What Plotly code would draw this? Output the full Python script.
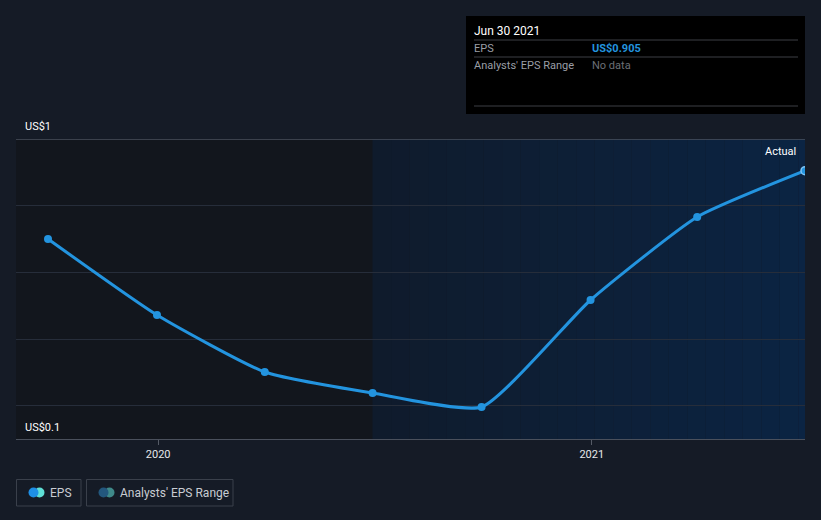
import plotly.graph_objects as go
import datetime as dt

dates = ["2019-09-30", "2019-12-31", "2020-03-31", "2020-06-30",
         "2020-09-30", "2020-12-31", "2021-03-31", "2021-06-30"]
eps = [0.70, 0.472, 0.301, 0.238, 0.196, 0.517, 0.766, 0.905]
y_ticks = [0.2, 0.4, 0.6, 0.8, 1.0]
x_tick_vals = ["2020-01-01", "2021-01-01"]
x_tick_text = ["2020", "2021"]

W, H = 821, 520
L, R, T, B = 16, 805, 139, 439

def px(xp):
    return (xp - L) / (R - L)

def py(yp):
    return (B - yp) / (B - T)

BG = "#151b26"
LINE = "#2394df"

fig = go.Figure()

fig.add_trace(go.Scatter(
    x=dates, y=eps, mode="lines+markers",
    line=dict(color=LINE, width=3, shape="spline", smoothing=0.5),
    marker=dict(color=LINE, size=8,
                line=dict(color=[LINE]*7 + ["#7fc4f5"], width=[0]*7 + [1.5])),
    hoverinfo="skip", showlegend=False, cliponaxis=True,
))

shapes = []
shapes.append(dict(type="rect", xref="x", yref="paper", x0="2019-08-01", x1=dates[3],
                   y0=0, y1=1, fillcolor="#12161d", line=dict(width=0), layer="below"))
d0 = dt.datetime(2020, 6, 30)
d1 = dt.datetime(2021, 7, 10)
n = 24
c0 = (0x0f, 0x1b, 0x2c)
c1 = (0x0b, 0x24, 0x43)
for i in range(n):
    a = d0 + (d1 - d0) * i / n
    b = d0 + (d1 - d0) * (i + 1) / n
    t = i / (n - 1)
    c = tuple(int(round(c0[k] + (c1[k] - c0[k]) * t)) for k in range(3))
    shapes.append(dict(type="rect", xref="x", yref="paper",
                       x0=a.strftime("%Y-%m-%d %H:%M"), x1=b.strftime("%Y-%m-%d %H:%M"),
                       y0=0, y1=1, fillcolor="rgb(%d,%d,%d)" % c,
                       line=dict(width=0), layer="below"))
shapes.append(dict(type="line", xref="paper", yref="y", x0=0, x1=1, y0=1.0, y1=1.0,
                   line=dict(color="#4a505c", width=1.5), layer="below"))

shapes.append(dict(type="rect", xref="paper", yref="paper", x0=px(466), x1=px(805),
                   y0=py(114), y1=py(16), fillcolor="#000000", line=dict(width=0)))
for yy in [40, 57, 106]:
    shapes.append(dict(type="line", xref="paper", yref="paper", x0=px(474), x1=px(798),
                       y0=py(yy), y1=py(yy), line=dict(color="#3c3f45", width=1)))

shapes.append(dict(type="rect", xref="paper", yref="paper", x0=px(16.5), x1=px(81),
                   y0=py(506), y1=py(479.5), line=dict(color="#3a404b", width=1),
                   fillcolor="rgba(0,0,0,0)"))
shapes.append(dict(type="rect", xref="paper", yref="paper", x0=px(86.5), x1=px(233),
                   y0=py(506), y1=py(479.5), line=dict(color="#3a404b", width=1),
                   fillcolor="rgba(0,0,0,0)"))
def circle(cx, cy, r, color):
    return dict(type="circle", xref="paper", yref="paper",
                x0=px(cx - r), x1=px(cx + r), y0=py(cy + r), y1=py(cy - r),
                fillcolor=color, line=dict(width=0))
shapes.append(circle(39.5, 492.5, 5, "#5fe0d6"))
shapes.append(circle(33.5, 492.5, 5, "#1e8fe6"))
shapes.append(circle(109.5, 492.5, 5, "#3f8a8a"))
shapes.append(circle(103.5, 492.5, 5, "#23577d"))

annotations = []
def txt(text, x, y, color, size=12, xanchor="left", bold=False):
    if bold:
        text = "<b>" + text + "</b>"
    annotations.append(dict(text=text, xref="paper", yref="paper", x=px(x), y=py(y),
                            xanchor=xanchor, yanchor="middle", showarrow=False,
                            font=dict(color=color, size=size, family="Roboto")))

txt("Jun 30 2021", 472, 31, "#ffffff", 12)
txt("EPS", 472, 48, "#9a9ea6", 11)
txt("US$0.905", 590, 48, "#2394df", 11, bold=True)
txt("Analysts' EPS Range", 472, 65, "#9a9ea6", 11)
txt("No data", 590, 65, "#6b6f76", 11)
txt("Actual", 798, 151, "#ffffff", 11, xanchor="right")
txt("US$1", 23, 127, "#ffffff", 11)
txt("US$0.1", 23, 427, "#ffffff", 11)
txt("EPS", 48, 493, "#c8ccd2", 12)
txt("Analysts' EPS Range", 118, 493, "#c8ccd2", 12)

fig.update_layout(
    width=W, height=H,
    margin=dict(l=L, r=W - R, t=T, b=H - B),
    paper_bgcolor=BG, plot_bgcolor=BG,
    shapes=shapes, annotations=annotations,
    showlegend=False,
    xaxis=dict(type="date", range=["2019-09-03", "2021-06-30"],
               tickvals=x_tick_vals, ticktext=x_tick_text,
               ticks="outside", ticklen=5, tickcolor="#555b66",
               tickfont=dict(color="#e6e8eb", size=11, family="Roboto"),
               showgrid=False, zeroline=False,
               showline=True, linecolor="#4a505c", linewidth=1),
    yaxis=dict(range=[0.1, 1.0], tickvals=y_ticks, showticklabels=False,
               showgrid=True, gridcolor="#262d3a", gridwidth=1,
               zeroline=False, showline=False, fixedrange=True),
)

fig.write_html("out.html")
